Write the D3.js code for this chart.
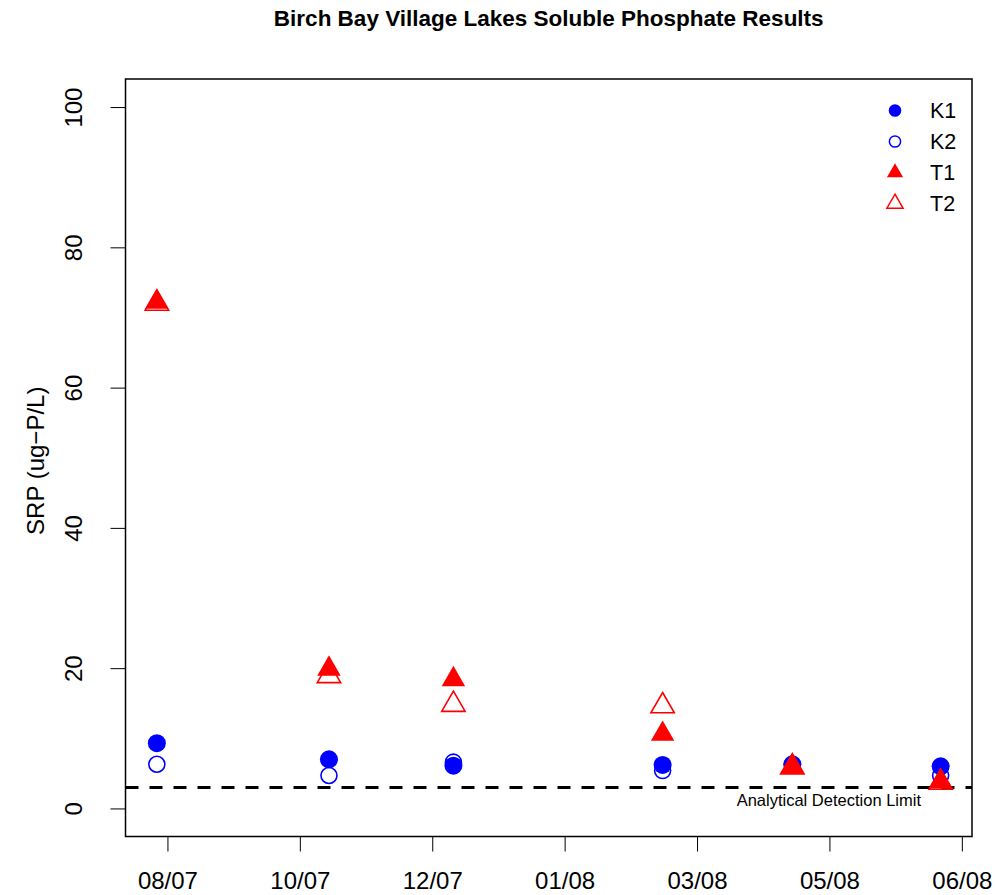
<!DOCTYPE html>
<html>
<head>
<meta charset="utf-8">
<script src="https://cdn.jsdelivr.net/npm/d3@7"></script>
<style>
  html, body { margin: 0; padding: 0; background: #fff; }
  svg text { font-family: "Liberation Sans", Arial, Helvetica, sans-serif; }
</style>
</head>
<body>
<svg id="chart" width="995" height="895"></svg>
<script>
// Sampling dates for each lake survey
const sampleDates = ["2007-08-21", "2007-10-25", "2007-12-11", "2008-02-28", "2008-04-17", "2008-06-12"];
// Soluble reactive phosphate (ug-P/L) by station
const K1 = [9.3, 7.0, 6.1, 6.2, 6.3, 6.0];
const K2 = [6.3, 4.7, 6.6, 5.4, 6.2, 4.7];
const T1 = [72.2, 19.9, 18.4, 10.6, 6.0, 3.8];
const T2 = [72.0, 18.9, 14.8, 14.6, 5.9, 3.7];
// Axis ticks
const xTickDates = ["2007-08-25", "2007-10-14", "2007-12-03", "2008-01-22", "2008-03-12", "2008-05-01", "2008-06-20"];
const xTickLabels = ["08/07", "10/07", "12/07", "01/08", "03/08", "05/08", "06/08"];
const yTicks = [0, 20, 40, 60, 80, 100];
const detectionLimit = 3;

const parse = d3.utcParse("%Y-%m-%d");
const dates = sampleDates.map(parse);

const svg = d3.select("#chart");
const box = { left: 125.5, right: 972, top: 79, bottom: 836.5 };
const axisFont = 24;

// R-style 4% padding on the data range
const [d0, d1] = d3.extent(dates);
const pad = (d1 - d0) * 0.04;
const x = d3.scaleUtc()
  .domain([new Date(+d0 - pad), new Date(+d1 + pad)])
  .range([box.left, box.right]);
const y = d3.scaleLinear()
  .domain([-4, 104])
  .range([box.bottom, box.top]);

const blue = "#0000ff", red = "#ff0000";

// Title
svg.append("text")
  .attr("x", (box.left + box.right) / 2).attr("y", 26)
  .attr("text-anchor", "middle")
  .attr("font-weight", "bold").attr("font-size", 22.5)
  .text("Birch Bay Village Lakes Soluble Phosphate Results");

// Axes
const xAxis = d3.axisBottom(x)
  .tickValues(xTickDates.map(parse))
  .tickFormat((d, i) => xTickLabels[i])
  .tickSize(15).tickPadding(20.5);
const gx = svg.append("g").attr("transform", `translate(0,${box.bottom})`).call(xAxis);
gx.select(".domain").remove();
gx.selectAll("line").attr("stroke", "#000").attr("stroke-width", 1);
gx.selectAll("text").attr("font-size", axisFont).attr("fill", "#000")
  .attr("font-family", "Liberation Sans, Arial, sans-serif");

const yAxis = d3.axisLeft(y).tickValues(yTicks).tickSize(15).tickFormat(d3.format("d"));
const gy = svg.append("g").attr("transform", `translate(${box.left},0)`).call(yAxis);
gy.select(".domain").remove();
gy.selectAll("line").attr("stroke", "#000").attr("stroke-width", 1);
gy.selectAll(".tick text")
  .attr("font-size", axisFont).attr("fill", "#000")
  .attr("font-family", "Liberation Sans, Arial, sans-serif")
  .attr("x", null).attr("dy", null)
  .attr("text-anchor", "middle")
  .attr("transform", "translate(-52.6,0) rotate(-90) translate(0,8.6)");

// Y axis title
svg.append("text")
  .attr("transform", `translate(44,${(box.top + box.bottom) / 2 + 3}) rotate(-90)`)
  .attr("text-anchor", "middle").attr("font-size", axisFont)
  .text("SRP (ug\u2212P/L)");

// Plot frame
svg.append("rect")
  .attr("x", box.left).attr("y", box.top)
  .attr("width", box.right - box.left).attr("height", box.bottom - box.top)
  .attr("fill", "none").attr("stroke", "#000").attr("stroke-width", 1.5);

// Detection limit line
svg.append("line")
  .attr("x1", box.left).attr("x2", box.right)
  .attr("y1", y(detectionLimit)).attr("y2", y(detectionLimit))
  .attr("stroke", "#000").attr("stroke-width", 3)
  .attr("stroke-dasharray", "13,11");
svg.append("text")
  .attr("x", 921).attr("y", y(detectionLimit) + 19)
  .attr("text-anchor", "end").attr("font-size", 16.5)
  .text("Analytical Detection Limit");

// Marker shapes
function trianglePath(cx, cy, s) {
  const r = 1.555 * s, hw = 1.347 * s, yc = 0.778 * s;
  return `M${cx},${cy - r}L${cx + hw},${cy + yc}L${cx - hw},${cy + yc}Z`;
}
function drawSeries(vals, kind, filled, color) {
  const g = svg.append("g");
  vals.forEach((v, i) => {
    const cx = x(dates[i]), cy = y(v);
    if (kind === "circle") {
      g.append("circle").attr("cx", cx).attr("cy", cy)
        .attr("r", filled ? 9 : 8)
        .attr("fill", filled ? color : "none")
        .attr("stroke", color).attr("stroke-width", filled ? 0 : 1.6);
    } else {
      g.append("path").attr("d", trianglePath(cx, cy, 8.7))
        .attr("fill", filled ? color : "none")
        .attr("stroke", color).attr("stroke-width", filled ? 0 : 1.6);
    }
  });
}
drawSeries(K2, "circle", false, blue);
drawSeries(K1, "circle", true, blue);
drawSeries(T2, "triangle", false, red);
drawSeries(T1, "triangle", true, red);

// Legend
const legendItems = [
  { name: "K1", kind: "circle", filled: true, color: blue },
  { name: "K2", kind: "circle", filled: false, color: blue },
  { name: "T1", kind: "triangle", filled: true, color: red },
  { name: "T2", kind: "triangle", filled: false, color: red }
];
const lg = svg.append("g");
legendItems.forEach((d, i) => {
  const cy = 110.5 + i * 31, cx = 895;
  if (d.kind === "circle") {
    lg.append("circle").attr("cx", cx).attr("cy", cy)
      .attr("r", d.filled ? 6.3 : 5.6)
      .attr("fill", d.filled ? d.color : "none")
      .attr("stroke", d.color).attr("stroke-width", d.filled ? 0 : 1.5);
  } else {
    lg.append("path").attr("d", trianglePath(cx, cy, 6))
      .attr("fill", d.filled ? d.color : "none")
      .attr("stroke", d.color).attr("stroke-width", d.filled ? 0 : 1.5);
  }
  lg.append("text").attr("x", 930).attr("y", cy + 7.5)
    .attr("font-size", 21.5).text(d.name);
});
</script>
</body>
</html>
